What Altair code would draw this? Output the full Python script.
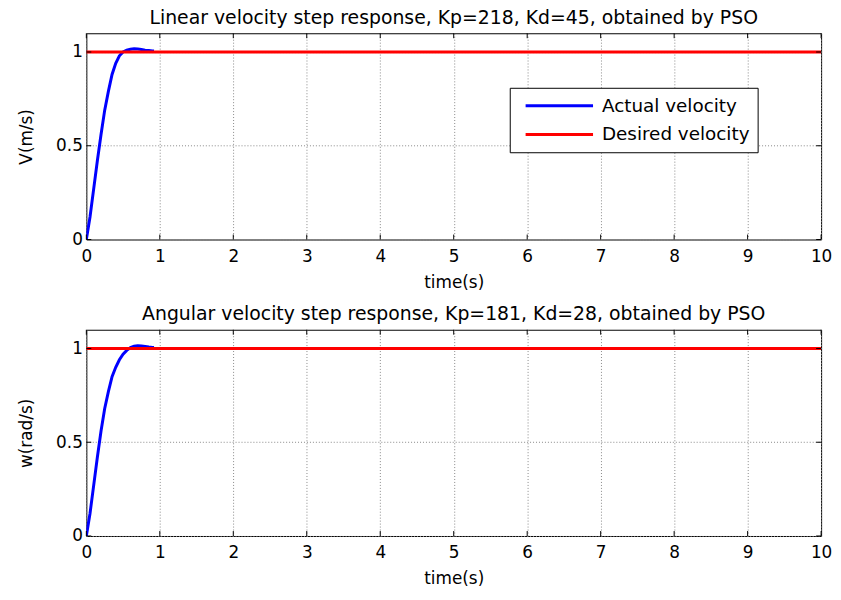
import altair as alt
import pandas as pd

# ---- data ----
t_lin = [0, 0.05, 0.1, 0.15, 0.2, 0.25, 0.3, 0.35, 0.4, 0.45, 0.5, 0.55, 0.6, 0.65, 0.7, 0.75, 0.8, 0.85, 0.9, 0.92]
v_lin = [0, 0.12, 0.27, 0.42, 0.56, 0.69, 0.79, 0.88, 0.94, 0.98, 1.0, 1.01, 1.015, 1.017, 1.016, 1.013, 1.01, 1.008, 1.006, 1.005]
t_ang = [0, 0.05, 0.1, 0.15, 0.2, 0.25, 0.3, 0.35, 0.4, 0.45, 0.5, 0.55, 0.6, 0.65, 0.7, 0.75, 0.8, 0.85, 0.9, 0.92]
w_ang = [0, 0.12, 0.27, 0.42, 0.56, 0.68, 0.77, 0.85, 0.9, 0.94, 0.97, 0.99, 1.005, 1.012, 1.015, 1.014, 1.011, 1.008, 1.006, 1.005]
t_des = [0, 10]
y_des = [1, 1]
x_ticks = [0, 1, 2, 3, 4, 5, 6, 7, 8, 9, 10]
y_ticks = [0, 0.5, 1]
series_names = ["Actual velocity", "Desired velocity"]
series_colors = ["#0000ff", "#ff0000"]
titles = ["Linear velocity step response, Kp=218, Kd=45, obtained by PSO",
          "Angular velocity step response, Kp=181, Kd=28, obtained by PSO"]
y_titles = ["V(m/s)", "w(rad/s)"]

FONT = "DejaVu Sans"
W, H = 741, 208
TICK = 5
LBL = "'' + datum.value"


def panel(t, y, title, ytitle, show_legend):
    act = pd.DataFrame({"t": t, "y": y, "series": series_names[0]})
    des = pd.DataFrame({"t": t_des, "y": y_des, "series": series_names[1]})
    df = pd.concat([act, des], ignore_index=True)

    xs = alt.Scale(domain=[0, 10], nice=False)
    ys = alt.Scale(domain=[0, 1.1], nice=False)
    xa = alt.Axis(values=x_ticks, title="time(s)", labelExpr=LBL, labelFlush=False)
    ya = alt.Axis(values=y_ticks, title=ytitle, labelExpr=LBL, labelFlush=False)

    if show_legend:
        legend = alt.Legend(title=None, orient="none", legendX=427, legendY=55,
                            symbolType="M-4,0H4", symbolSize=289, symbolStrokeWidth=3,
                            symbolOffset=32, labelOffset=33,
                            labelFont=FONT, labelFontSize=18.5, labelColor="black",
                            strokeColor="black", fillColor="white",
                            padding=8, rowPadding=9)
    else:
        legend = None

    lines = alt.Chart(df).mark_line(strokeWidth=3, clip=True).encode(
        x=alt.X("t:Q", scale=xs, axis=xa),
        y=alt.Y("y:Q", scale=ys, axis=ya),
        color=alt.Color("series:N", scale=alt.Scale(domain=series_names, range=series_colors),
                        legend=legend),
        order=alt.Order("t:Q"),
    )

    xt = pd.DataFrame({"t": x_ticks})
    yt = pd.DataFrame({"y": y_ticks})
    bot = alt.Chart(xt).mark_rule(color="black", strokeWidth=1).encode(
        x=alt.X("t:Q", scale=xs, axis=xa), y=alt.value(H), y2=alt.value(H - TICK))
    top = alt.Chart(xt).mark_rule(color="black", strokeWidth=1).encode(
        x=alt.X("t:Q", scale=xs, axis=xa), y=alt.value(0), y2=alt.value(TICK))
    lft = alt.Chart(yt).mark_rule(color="black", strokeWidth=1).encode(
        y=alt.Y("y:Q", scale=ys, axis=ya), x=alt.value(0), x2=alt.value(TICK))
    rgt = alt.Chart(yt).mark_rule(color="black", strokeWidth=1).encode(
        y=alt.Y("y:Q", scale=ys, axis=ya), x=alt.value(W - TICK), x2=alt.value(W))

    return alt.layer(lines, bot, top, lft, rgt).properties(
        width=W, height=H,
        title=alt.TitleParams(title, font=FONT, fontSize=19, fontWeight="normal",
                              color="black", anchor="middle", offset=5),
    ).resolve_scale(color="independent")


chart = alt.vconcat(
    panel(t_lin, v_lin, titles[0], y_titles[0], True),
    panel(t_ang, w_ang, titles[1], y_titles[1], False),
    spacing=14,
).properties(
    padding={"left": 9, "top": -2, "right": 0, "bottom": 0},
    background="white",
).configure_view(
    stroke="black", strokeWidth=1,
).configure_axis(
    domain=False, ticks=False, grid=True,
    gridColor="#888888", gridDash=[1, 2], gridWidth=1,
    labelFont=FONT, labelFontSize=17, labelColor="black", labelPadding=4,
    titleFont=FONT, titleFontSize=17, titleFontWeight="normal", titleColor="black",
    titlePadding=20,
).configure_axisX(labelPadding=9, titlePadding=10)

chart.save("out.html", embed_options={"renderer": "svg", "actions": False})
